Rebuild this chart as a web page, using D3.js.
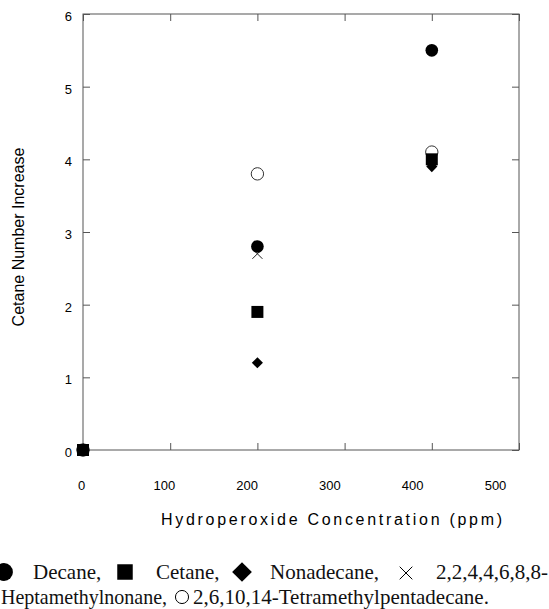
<!DOCTYPE html>
<html>
<head>
<meta charset="utf-8">
<script src="https://cdn.jsdelivr.net/npm/d3@7"></script>
<style>
  body { margin: 0; background: #fff; }
  svg { display: block; }
</style>
</head>
<body>
<svg id="chart" width="549" height="609"></svg>
<script>
// concentrations (ppm)
let concentrations = [0, 200, 400];

// cetane number increase per compound
let decane = [0, 2.8, 5.5];
let cetane = [0, 1.9, 4.0];
let nonadecane = [0, 1.2, 3.9];
let heptamethylnonane = [0, 2.7, 4.0];
let tetramethylpentadecane = [0, 3.8, 4.1];

let xTicks = [0, 100, 200, 300, 400, 500];
let yTicks = [0, 1, 2, 3, 4, 5, 6];

let plotLeft = 83, plotRight = 519, plotTop = 14, plotBottom = 450;
let axisColor = "#555";
let sansFont = "Liberation Sans, Arial, Helvetica, sans-serif";
let serifFont = "Liberation Serif, Times New Roman, serif";

let svg = d3.select("#chart");

let x = d3.scaleLinear().domain([0, 500]).range([plotLeft, plotRight]);
let y = d3.scaleLinear().domain([0, 6]).range([plotBottom, plotTop]);
// printed labels sit a little left of their ticks in the scan
let xLabel = d3.scaleLinear().domain([0, 500]).range([plotLeft - 2, plotRight - 24]);

// stroke cross symbol
let symbolX = {
  draw: function(context, size) {
    let r = Math.sqrt(size) / 2;
    context.moveTo(-r, -r); context.lineTo(r, r);
    context.moveTo(r, -r); context.lineTo(-r, r);
  }
};

// frame
svg.append("rect")
  .attr("x", plotLeft).attr("y", plotTop)
  .attr("width", plotRight - plotLeft).attr("height", plotBottom - plotTop)
  .style("fill", "none")
  .style("stroke", axisColor)
  .style("stroke-width", "1px");

function styleAxis(g) {
  g.select(".domain").remove();
  g.selectAll(".tick line").style("stroke", axisColor);
}

// inward ticks on all four sides
svg.append("g")
  .attr("transform", "translate(0," + plotBottom + ")")
  .call(d3.axisBottom(x).tickValues(xTicks).tickSize(-7).tickFormat(""))
  .call(styleAxis);
svg.append("g")
  .attr("transform", "translate(0," + plotTop + ")")
  .call(d3.axisTop(x).tickValues(xTicks).tickSize(-7).tickFormat(""))
  .call(styleAxis);
svg.append("g")
  .attr("transform", "translate(" + plotRight + ",0)")
  .call(d3.axisRight(y).tickValues(yTicks).tickSize(-7).tickFormat(""))
  .call(styleAxis);
let yAxis = svg.append("g")
  .attr("transform", "translate(" + plotLeft + ",0)")
  .call(d3.axisLeft(y).tickValues(yTicks).tickSize(-7).tickPadding(11).tickFormat(d3.format("d")))
  .call(styleAxis);
yAxis.selectAll("text")
  .attr("dy", "0.5em")
  .style("font-family", sansFont)
  .style("font-size", "13px")
  .style("fill", "#000");

// x tick labels
let xLabels = svg.append("g")
  .attr("transform", "translate(0," + plotBottom + ")")
  .call(d3.axisBottom(xLabel).tickValues(xTicks).tickSize(0).tickPadding(31));
xLabels.select(".domain").remove();
xLabels.selectAll("text")
  .style("font-family", sansFont)
  .style("font-size", "13px")
  .style("fill", "#000");

// axis titles
svg.append("text")
  .attr("x", 161)
  .attr("y", 525)
  .attr("textLength", 341)
  .attr("lengthAdjust", "spacing")
  .text("Hydroperoxide Concentration (ppm)")
  .style("font-family", sansFont)
  .style("font-size", "16px");

svg.append("text")
  .attr("transform", "translate(24,237) rotate(-90)")
  .text("Cetane Number Increase")
  .style("text-anchor", "middle")
  .style("font-family", sansFont)
  .style("font-size", "16px");

// series markers
let series = [
  { name: "2,6,10,14-Tetramethylpentadecane", values: tetramethylpentadecane, type: d3.symbolCircle, size: 120, fill: "#fff", stroke: "#333", rot: 0 },
  { name: "2,2,4,4,6,8,8-Heptamethylnonane", values: heptamethylnonane, type: symbolX, size: 100, fill: "none", stroke: "#222", rot: 0 },
  { name: "Decane", values: decane, type: d3.symbolCircle, size: 125, fill: "#000", stroke: "none", rot: 0 },
  { name: "Nonadecane", values: nonadecane, type: d3.symbolSquare, size: 62, fill: "#000", stroke: "none", rot: 45 },
  { name: "Cetane", values: cetane, type: d3.symbolSquare, size: 144, fill: "#000", stroke: "none", rot: 0 }
];

series.forEach(function(s) {
  svg.selectAll(null)
    .data(s.values)
    .enter()
    .append("path")
      .attr("d", d3.symbol().type(s.type).size(s.size))
      .attr("transform", function(d, i) {
        return "translate(" + x(concentrations[i]) + "," + y(d) + ") rotate(" + s.rot + ")";
      })
      .style("fill", s.fill)
      .style("stroke", s.stroke)
      .style("stroke-width", "1px");
});

// caption legend (justified two lines)
let line1 = 579, line2 = 604;
let legendSymbols = [
  { type: d3.symbolCircle, size: 250, cx: 4, cy: line1 - 7, fill: "#000", stroke: "none", rot: 0 },
  { type: d3.symbolSquare, size: 240, cx: 125, cy: line1 - 7, fill: "#000", stroke: "none", rot: 0 },
  { type: d3.symbolSquare, size: 195, cx: 242, cy: line1 - 7, fill: "#000", stroke: "none", rot: 45 },
  { type: symbolX, size: 160, cx: 406, cy: line1 - 6, fill: "none", stroke: "#000", rot: 0 },
  { type: d3.symbolCircle, size: 135, cx: 182, cy: line2 - 7, fill: "#fff", stroke: "#000", rot: 0 }
];
svg.selectAll(".legendSymbol")
  .data(legendSymbols)
  .enter()
  .append("path")
    .attr("d", function(d) { return d3.symbol().type(d.type).size(d.size)(); })
    .attr("transform", function(d) { return "translate(" + d.cx + "," + d.cy + ") rotate(" + d.rot + ")"; })
    .style("fill", function(d) { return d.fill; })
    .style("stroke", function(d) { return d.stroke; })
    .style("stroke-width", "1px");

let legendTexts = [
  { text: "Decane,", x: 33, y: line1, anchor: "start" },
  { text: "Cetane,", x: 156, y: line1, anchor: "start" },
  { text: "Nonadecane,", x: 270, y: line1, anchor: "start" },
  { text: "2,2,4,4,6,8,8-", x: 548, y: line1, anchor: "end" },
  { text: "Heptamethylnonane,", x: 1, y: line2, anchor: "start", len: 166 },
  { text: "2,6,10,14-Tetramethylpentadecane.", x: 193, y: line2, anchor: "start" }
];
let legendLabels = svg.selectAll(".legendText")
  .data(legendTexts)
  .enter()
  .append("text")
    .attr("x", function(d) { return d.x; })
    .attr("y", function(d) { return d.y; })
    .text(function(d) { return d.text; })
    .style("text-anchor", function(d) { return d.anchor; })
    .style("font-family", serifFont)
    .style("font-size", "21px")
    .style("fill", "#111");
legendLabels.filter(function(d) { return d.len; })
  .attr("textLength", function(d) { return d.len; })
  .attr("lengthAdjust", "spacingAndGlyphs");
</script>
</body>
</html>
